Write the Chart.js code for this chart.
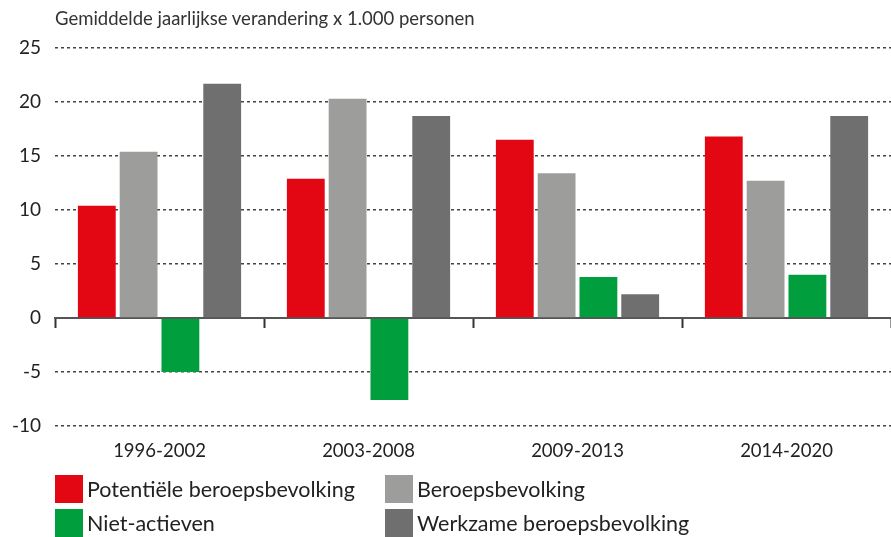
<!DOCTYPE html>
<html>
<head>
<meta charset="utf-8">
<script src="https://cdn.jsdelivr.net/npm/chart.js@4"></script>
<style>
    body { margin: 0; background: #fff; font-family: Lato, "Open Sans", sans-serif; color: #222; }
    #wrap { position: relative; width: 891px; height: 537px; }
    #title { position: absolute; left: 55px; top: 7px; font-size: 18.5px; color: #333; white-space: nowrap; }
    .leg { position: absolute; font-size: 21.5px; color: #222; line-height: 28px; white-space: nowrap; }
    .leg span { display: inline-block; width: 28px; height: 28px; vertical-align: top; margin-right: 4px; }
</style>
</head>
<body>
<div id="wrap">
    <canvas id="chart" width="891" height="537"></canvas>
    <div id="title">Gemiddelde jaarlijkse verandering x 1.000 personen</div>
    <div id="legend"></div>
</div>
<script>
const periods = ['1996-2002', '2003-2008', '2009-2013', '2014-2020'];
const potentieel = [10.4, 12.9, 16.5, 16.8];
const beroeps = [15.4, 20.3, 13.4, 12.7];
const nietActief = [-5.0, -7.6, 3.8, 4.0];
const werkzaam = [21.7, 18.7, 2.2, 18.7];
const yTicks = [-10, -5, 0, 5, 10, 15, 20, 25];

const series = [
    { label: 'Potentiële beroepsbevolking', data: potentieel, color: '#E30613' },
    { label: 'Beroepsbevolking', data: beroeps, color: '#9D9D9C' },
    { label: 'Niet-actieven', data: nietActief, color: '#009E3D' },
    { label: 'Werkzame beroepsbevolking', data: werkzaam, color: '#706F6F' }
];

// legend in two columns, like the original
const legendPos = [[55, 475], [385, 475], [55, 509], [385, 509]];
const legendEl = document.getElementById('legend');
series.forEach((s, i) => {
    const d = document.createElement('div');
    d.className = 'leg';
    d.style.left = legendPos[i][0] + 'px';
    d.style.top = legendPos[i][1] + 'px';
    d.innerHTML = '<span style="background:' + s.color + '"></span>' + s.label;
    legendEl.appendChild(d);
});

const ctx = document.getElementById('chart');

const chart = new Chart(ctx, {
    type: 'bar',
    data: {
        labels: periods,
        datasets: series.map(s => ({
            label: s.label,
            data: s.data,
            backgroundColor: s.color,
            borderWidth: 0,
            categoryPercentage: 0.8,
            barPercentage: 0.905
        }))
    },
    options: {
        responsive: false,
        animation: false,
        layout: {
            padding: { top: 48, right: 0, bottom: 66, left: 0 }
        },
        scales: {
            x: {
                grid: { display: false, drawTicks: false },
                border: { display: false },
                ticks: {
                    color: '#222',
                    padding: 14,
                    font: { family: 'Lato', size: 18.5 }
                },
                afterFit: function (scale) {
                    scale.height = 45;
                }
            },
            x2: {
                type: 'category',
                position: { y: 0 },
                offset: true,
                grid: {
                    display: true,
                    offset: true,
                    drawOnChartArea: false,
                    drawTicks: true,
                    tickLength: 9,
                    tickColor: '#333',
                    tickWidth: 2
                },
                border: { display: true, color: '#555', width: 2 },
                ticks: { display: false }
            },
            y: {
                min: -10,
                max: 25,
                afterBuildTicks: function (scale) {
                    scale.ticks = yTicks.map(v => ({ value: v }));
                },
                grid: {
                    drawTicks: false,
                    lineWidth: 1.5,
                    color: function (c) {
                        return c.tick && c.tick.value === 0 ? 'rgba(0,0,0,0)' : '#444';
                    }
                },
                border: {
                    display: false,
                    dash: [3, 3]
                },
                ticks: {
                    color: '#222',
                    padding: 14,
                    font: { family: 'Lato', size: 19 }
                },
                afterFit: function (scale) {
                    scale.width = 55;
                }
            }
        },
        plugins: {
            legend: { display: false },
            tooltip: { enabled: false }
        }
    }
});
</script>
</body>
</html>
